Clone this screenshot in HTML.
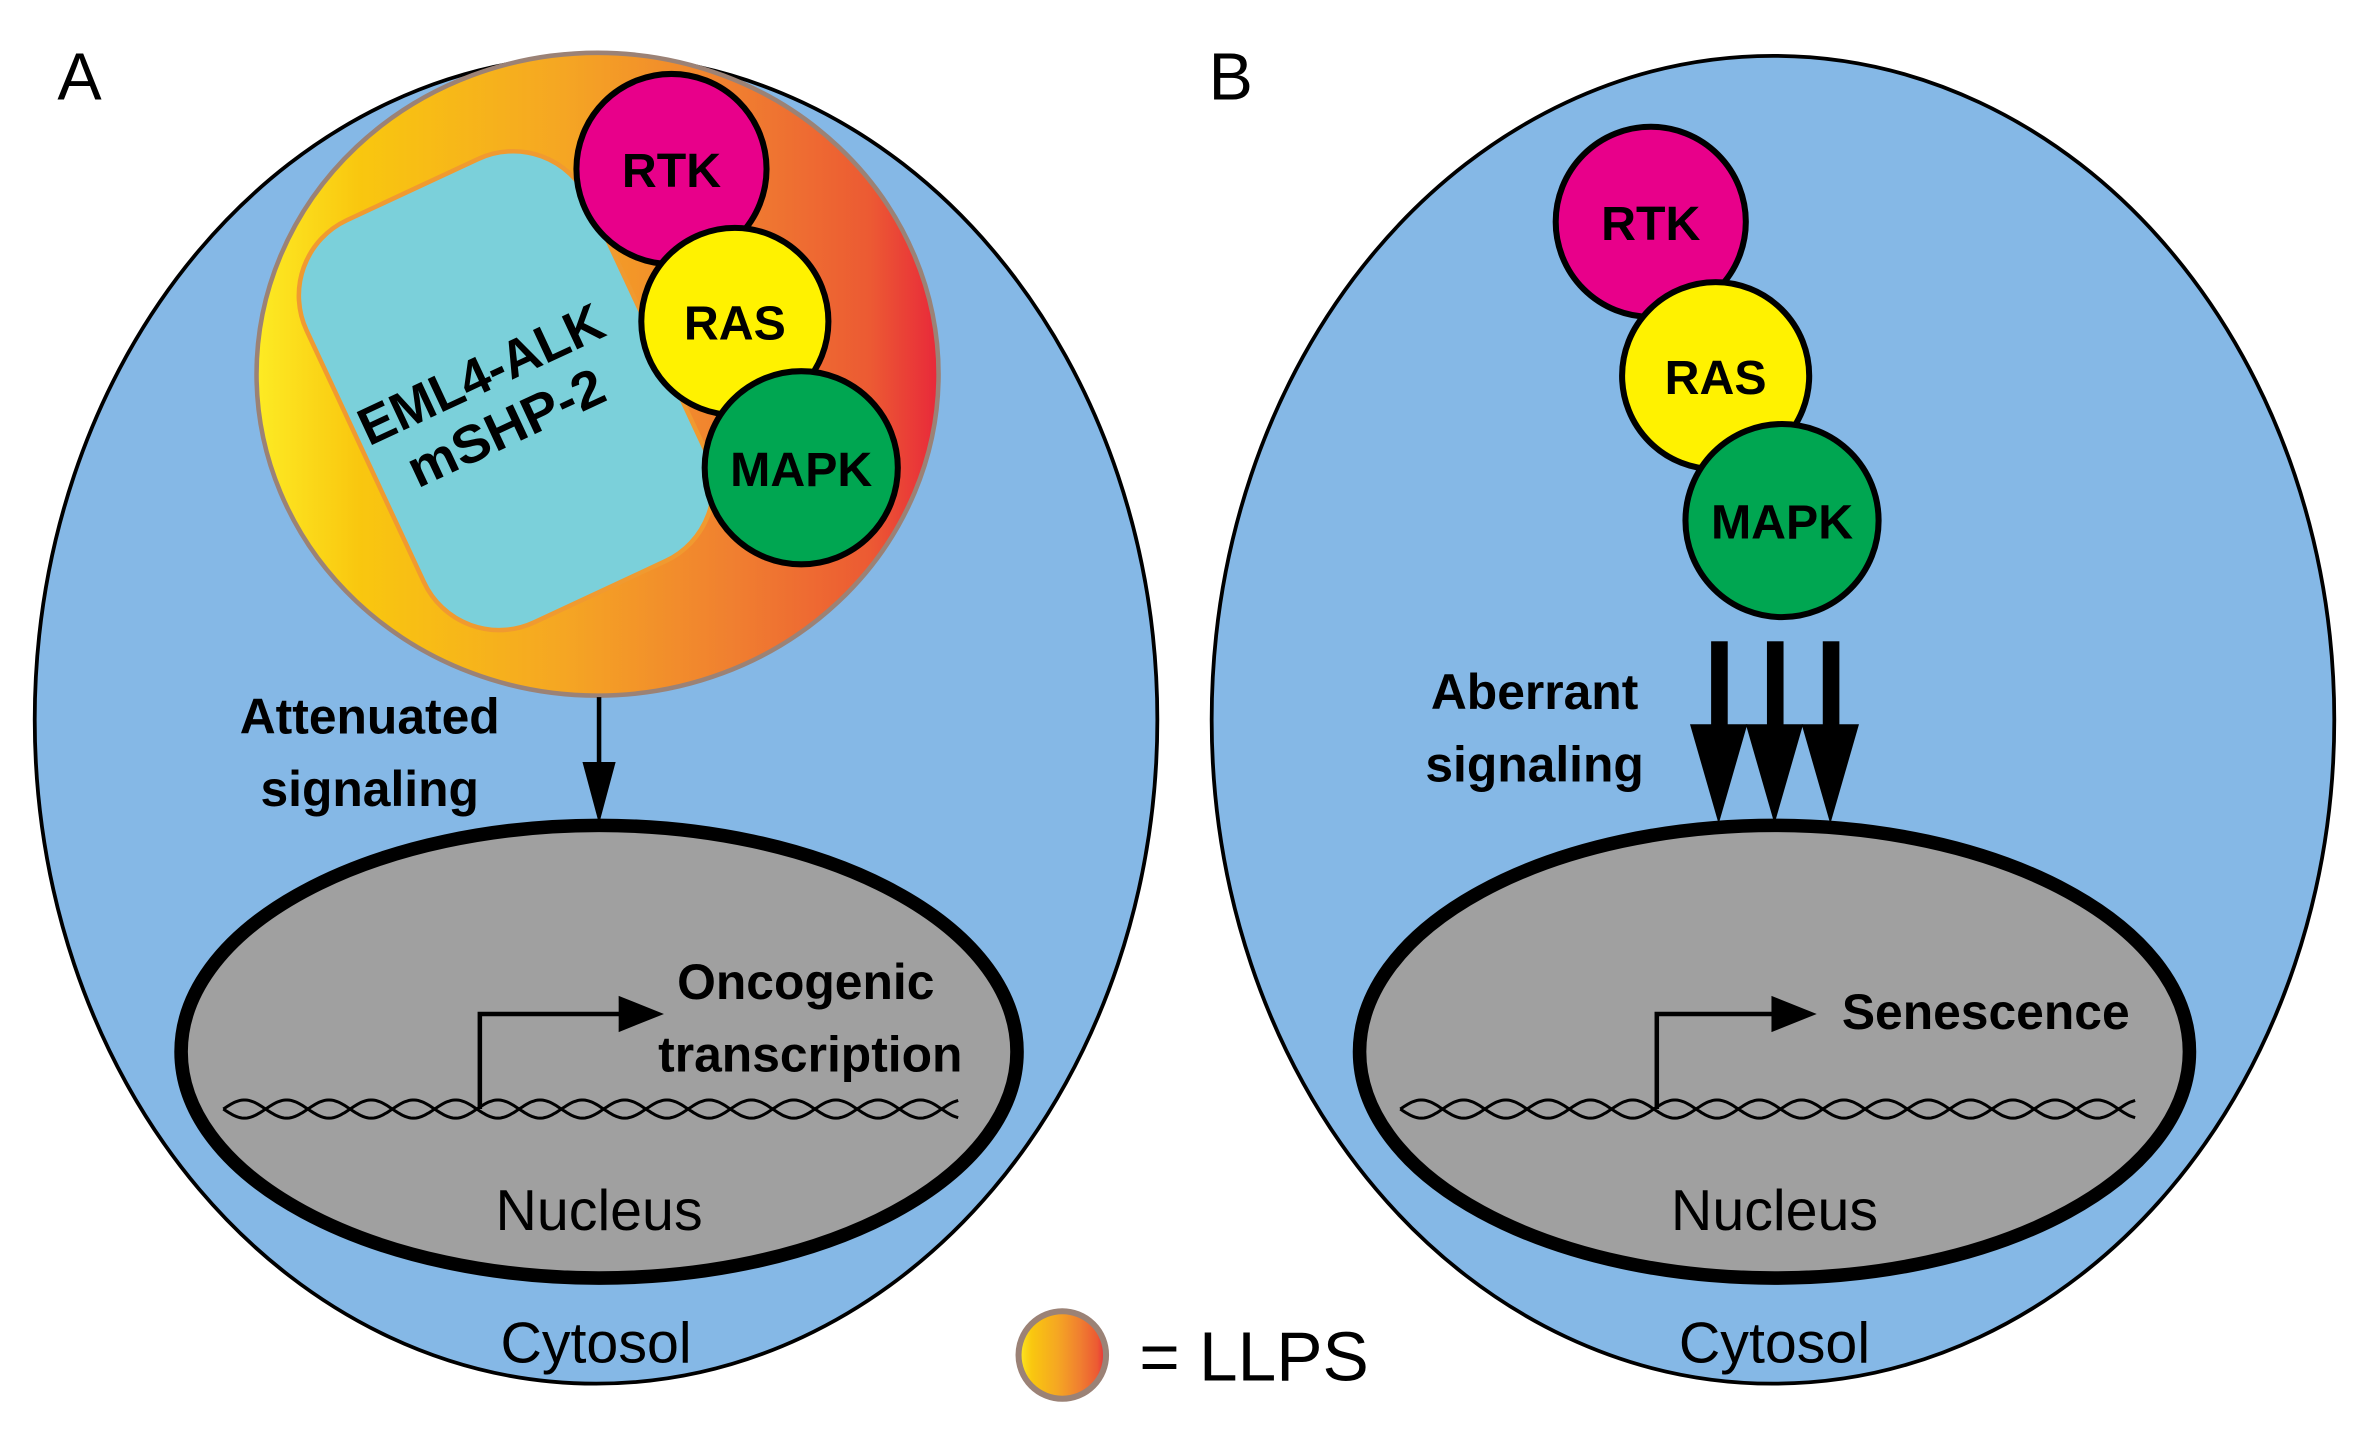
<!DOCTYPE html>
<html><head><meta charset="utf-8"><style>
html,body{margin:0;padding:0;background:#fff;}
svg{display:block;}
text{font-family:"Liberation Sans",sans-serif;}
.b{font-weight:bold;}
</style></head><body>
<svg id="s" width="2366" height="1441" viewBox="0 0 1568 955" xmlns="http://www.w3.org/2000/svg">
<defs>
<linearGradient id="g" x1="0" x2="1" y1="0" y2="0">
<stop offset="0" stop-color="#fdeb24"/><stop offset="0.15" stop-color="#f9c70f"/><stop offset="0.45" stop-color="#f5a623"/><stop offset="0.7" stop-color="#f07f30"/><stop offset="0.9" stop-color="#ec5a33"/><stop offset="1" stop-color="#e8283a"/>
</linearGradient>
</defs>
<ellipse cx="395" cy="477" rx="372" ry="440" fill="#85b8e6" stroke="#000" stroke-width="2.5"/>
<ellipse cx="1175" cy="477" rx="372" ry="440" fill="#85b8e6" stroke="#000" stroke-width="2.5"/>
<text x="38" y="66" font-size="44">A</text>
<text x="801" y="66" font-size="44">B</text>
<ellipse cx="396" cy="248" rx="226" ry="213" fill="url(#g)" stroke="#9b8276" stroke-width="3"/>
<g transform="rotate(-25 335 258)">
<rect x="232" y="112" width="206" height="294" rx="55" fill="#7bd0da" stroke="#f09a30" stroke-width="3"/>
</g>
<g transform="rotate(-25 328 268)" font-size="35" text-anchor="middle">
<text x="328" y="258" class="b" textLength="175" lengthAdjust="spacingAndGlyphs">EML4-ALK</text>
<text x="328" y="297" class="b" textLength="140" lengthAdjust="spacingAndGlyphs">mSHP-2</text>
</g>
<g stroke="#000" stroke-width="4">
<circle cx="445" cy="112" r="63" fill="#e8008a"/>
<circle cx="487" cy="213" r="62" fill="#fff200"/>
<circle cx="531" cy="310" r="64" fill="#00a651"/>
<circle cx="1094" cy="147" r="63" fill="#e8008a"/>
<circle cx="1137" cy="249" r="62" fill="#fff200"/>
<circle cx="1181" cy="345" r="64" fill="#00a651"/>
</g>
<g font-size="32" text-anchor="middle">
<text x="445" y="124" class="b">RTK</text>
<text x="487" y="225" class="b">RAS</text>
<text x="531" y="322" class="b">MAPK</text>
<text x="1094" y="159" class="b">RTK</text>
<text x="1137" y="261" class="b">RAS</text>
<text x="1181" y="357" class="b">MAPK</text>
</g>
<g font-size="33" text-anchor="middle">
<text x="245" y="486" class="b">Attenuated</text>
<text x="245" y="534" class="b">signaling</text>
<text x="1017" y="470" class="b">Aberrant</text>
<text x="1017" y="518" class="b">signaling</text>
</g>
<line x1="397" y1="462" x2="397" y2="510" stroke="#000" stroke-width="3"/>
<polygon points="386,505 408,505 397,546" fill="#000"/>
<g fill="#000">
<rect x="1134" y="425" width="11" height="60"/><polygon points="1120,480 1158,480 1139,546"/>
<rect x="1171" y="425" width="11" height="60"/><polygon points="1157,480 1195,480 1176,546"/>
<rect x="1208" y="425" width="11" height="60"/><polygon points="1194,480 1232,480 1213,546"/>
</g>
<ellipse cx="397" cy="697" rx="277" ry="150" fill="#a0a0a0" stroke="#000" stroke-width="9"/>
<ellipse cx="1176" cy="697" rx="275" ry="150" fill="#a0a0a0" stroke="#000" stroke-width="9"/>
<g id="dna" fill="none" stroke="#000" stroke-width="2"></g>
<polyline points="318,735 318,672 414,672" fill="none" stroke="#000" stroke-width="3"/>
<polygon points="410,660 440,672 410,684" fill="#000"/>
<polyline points="1098,735 1098,672 1178,672" fill="none" stroke="#000" stroke-width="3"/>
<polygon points="1174,660 1204,672 1174,684" fill="#000"/>
<g font-size="33" text-anchor="middle">
<text x="534" y="662" class="b">Oncogenic</text>
<text x="537" y="710" class="b">transcription</text>
<text x="1316" y="682" class="b">Senescence</text>
</g>
<g font-size="38" text-anchor="middle">
<text x="397" y="815">Nucleus</text>
<text x="1176" y="815">Nucleus</text>
<text x="395" y="903">Cytosol</text>
<text x="1176" y="903">Cytosol</text>
</g>
<circle cx="704" cy="898" r="29" fill="url(#g)" stroke="#9b8276" stroke-width="4"/>
<text x="755" y="915" font-size="46">= LLPS</text>
</svg>
<script>
(function(){
var g=document.getElementById('dna');var ns='http://www.w3.org/2000/svg';
function helix(x0,x1,y){
 for(var k=0;k<2;k++){
  var d='';var n=400;
  for(var i=0;i<=n;i++){var x=x0+(x1-x0)*i/n;var yy=y+6*Math.sin((x-x0)*2*Math.PI/56+k*Math.PI);d+=(i?'L':'M')+x.toFixed(1)+' '+yy.toFixed(1);}
  var p=document.createElementNS(ns,'path');p.setAttribute('d',d);g.appendChild(p);
 }
}
helix(148,635,735);helix(928,1415,735);
})();
</script>
</body></html>
